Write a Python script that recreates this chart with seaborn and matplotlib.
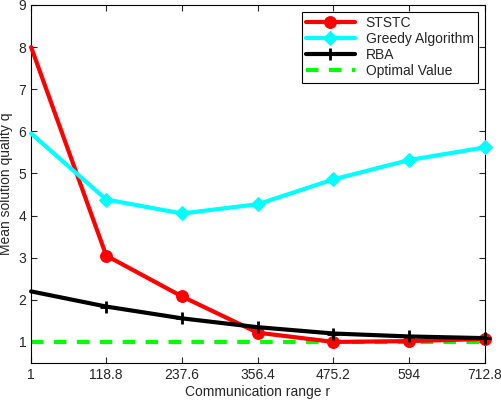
import numpy as np
import pandas as pd
import matplotlib
matplotlib.use("Agg")
import matplotlib.pyplot as plt
import seaborn as sns

# datos
rango = [1, 118.8, 237.6, 356.4, 475.2, 594, 712.8]
ststc = [8.0, 3.05, 2.08, 1.22, 1.0, 1.02, 1.07]
greedy = [5.95, 4.38, 4.05, 4.27, 4.86, 5.32, 5.62]
rba = [2.2, 1.84, 1.56, 1.35, 1.2, 1.13, 1.09]
optimo = [1, 1, 1, 1, 1, 1, 1]

sns.set_style("ticks")
plt.rcParams['font.family'] = ['Liberation Sans', 'DejaVu Sans']
plt.rcParams['xtick.direction'] = 'in'
plt.rcParams['ytick.direction'] = 'in'

fig = plt.figure(figsize=(5.02, 4.0), dpi=100)
ax = fig.add_axes([0.062, 0.0925, 0.904, 0.895])

x = np.array(rango)
# en el original el primer punto no lleva marcador
sin_primero = slice(1, None)
sns.lineplot(x=x, y=optimo, ax=ax, color='#00ff00', lw=3, ls=(0, (3, 2.5)),
             label='Optimal Value', zorder=2)
sns.lineplot(x=x, y=ststc, ax=ax, color='#ff0000', lw=3, marker='o', ms=8.5,
             markeredgecolor='#ff0000', label='STSTC', clip_on=False, zorder=3,
             markevery=sin_primero)
sns.lineplot(x=x, y=greedy, ax=ax, color='#00ffff', lw=3, marker='D', ms=7.5,
             markeredgecolor='#00ffff', label='Greedy Algorithm', clip_on=False,
             zorder=3, markevery=sin_primero)
sns.lineplot(x=x, y=rba, ax=ax, color='black', lw=3, marker='+', ms=9,
             mew=2, markeredgecolor='black', label='RBA', clip_on=False, zorder=4,
             markevery=sin_primero)

ax.set_xlim(1, 712.8)
ax.set_ylim(0.5, 9)
ax.set_xticks(rango)
ax.set_xticklabels(['1', '118.8', '237.6', '356.4', '475.2', '594', '712.8'])
ax.set_yticks(range(1, 10))
ax.tick_params(labelsize=10, top=True, right=True, length=4, width=0.8)
for s in ax.spines.values():
    s.set_linewidth(0.8)
    s.set_color('black')

ax.set_xlabel('Communication range r', fontsize=10, labelpad=2)
ax.set_ylabel('Mean solution quality q', fontsize=10, labelpad=4)

# orden de la leyenda como en el original
h, l = ax.get_legend_handles_labels()
orden = [l.index(n) for n in ['STSTC', 'Greedy Algorithm', 'RBA', 'Optimal Value']]
leg = ax.legend([h[i] for i in orden], [l[i] for i in orden],
                loc='upper right', fontsize=10, frameon=True, fancybox=False,
                edgecolor='black', framealpha=1, borderpad=0.3,
                labelspacing=0.15, handlelength=3.5, borderaxespad=0.5)
leg.get_frame().set_linewidth(0.8)
for lh in leg.legend_handles:
    n = len(lh.get_xdata())
    lh.set_markevery([n // 2])

fig.savefig('out.png', dpi=100)
